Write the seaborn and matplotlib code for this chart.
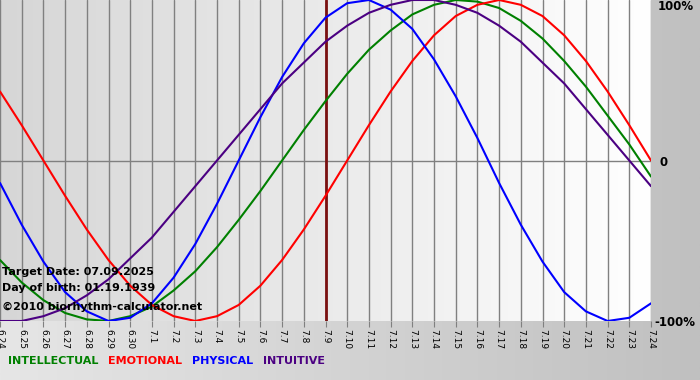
import numpy as np
import pandas as pd
import matplotlib.pyplot as plt
from matplotlib.colors import LinearSegmentedColormap
import seaborn as sns

# dates shown along the bottom (6.24 .. 7.24)
dates = ['6.24', '6.25', '6.26', '6.27', '6.28', '6.29', '6.30',
         '7.1', '7.2', '7.3', '7.4', '7.5', '7.6', '7.7', '7.8', '7.9',
         '7.10', '7.11', '7.12', '7.13', '7.14', '7.15', '7.16', '7.17',
         '7.18', '7.19', '7.20', '7.21', '7.22', '7.23', '7.24']
target_date = '7.9'

# daily cycle values (-1 .. 1)
intellectual = [-0.62, -0.76, -0.87, -0.95, -0.99, -1.00, -0.97, -0.91, -0.81, -0.69,
                -0.54, -0.37, -0.19, 0.00, 0.19, 0.37, 0.54, 0.69, 0.81, 0.91,
                0.97, 1.00, 0.99, 0.95, 0.87, 0.76, 0.62, 0.46, 0.28, 0.10, -0.10]
emotional = [0.43, 0.22, 0.00, -0.22, -0.43, -0.62, -0.78, -0.90, -0.97, -1.00,
             -0.97, -0.90, -0.78, -0.62, -0.43, -0.22, 0.00, 0.22, 0.43, 0.62,
             0.78, 0.90, 0.97, 1.00, 0.97, 0.90, 0.78, 0.62, 0.43, 0.22, 0.00]
physical = [-0.14, -0.40, -0.63, -0.82, -0.94, -1.00, -0.98, -0.89, -0.73, -0.52,
            -0.27, 0.00, 0.27, 0.52, 0.73, 0.89, 0.98, 1.00, 0.94, 0.82,
            0.63, 0.40, 0.14, -0.14, -0.40, -0.63, -0.82, -0.94, -1.00, -0.98, -0.89]
intuitive = [-1.00, -1.00, -0.97, -0.92, -0.84, -0.74, -0.61, -0.48, -0.32, -0.16,
             0.00, 0.16, 0.32, 0.48, 0.61, 0.74, 0.84, 0.92, 0.97, 1.00,
             1.00, 0.97, 0.92, 0.84, 0.74, 0.61, 0.48, 0.32, 0.16, 0.00, -0.16]

cycle_names = ['INTELLECTUAL', 'EMOTIONAL', 'PHYSICAL', 'INTUITIVE']
cycle_colors = ['#008000', '#ff0000', '#0000ff', '#4b0082']

target_text = 'Target Date: 07.09.2025'
birth_text = 'Day of birth: 01.19.1939'
credit_text = '\u00a92010 biorhythm-calculator.net'

# long table for seaborn
rows = []
for name, vals in zip(cycle_names, [intellectual, emotional, physical, intuitive]):
    for i, v in enumerate(vals):
        rows.append({'day': i, 'value': v, 'cycle': name})
df = pd.DataFrame(rows)

sns.set_style('white')
plt.rcParams['font.family'] = ['DejaVu Sans']
plt.rcParams['text.color'] = 'black'
plt.rcParams['xtick.color'] = 'black'

fig = plt.figure(figsize=(7, 3.8), dpi=100)

# figure background gradient
grad = np.linspace(0, 1, 256).reshape(1, -1)
bg = fig.add_axes([0, 0, 1, 1], zorder=-10)
bg.imshow(grad, aspect='auto', extent=[0, 1, 0, 1],
          cmap=LinearSegmentedColormap.from_list('bg', ['#e6e6e6', '#c0c0c0']))
bg.axis('off')

ax = fig.add_axes([0, 1 - 321 / 380, 651 / 700, 321 / 380])
n = len(dates)
ax.imshow(grad, aspect='auto', zorder=0, extent=[0, n - 1, -1, 1],
          cmap=LinearSegmentedColormap.from_list('pa', ['#d6d6d6', '#ffffff']))

for i in range(n):
    ax.axvline(i, color='#808080', lw=1, zorder=1)
ax.axhline(0, color='#808080', lw=1, zorder=1)
ax.axvline(dates.index(target_date), color='#7a1010', lw=2, zorder=2)

sns.lineplot(data=df, x='day', y='value', hue='cycle', hue_order=cycle_names,
             palette=cycle_colors, linewidth=1.5, legend=False, ax=ax, zorder=3)

ax.set_xlim(0, n - 1)
ax.set_ylim(-1, 1)
ax.set_xticks(range(n))
ax.set_xticklabels(dates, rotation=270, fontsize=6.5, color='black')
ax.tick_params(axis='x', length=4, color='#808080', pad=2, direction='out', bottom=True)
ax.set_yticks([])
ax.set_xlabel('')
ax.set_ylabel('')
for s in ax.spines.values():
    s.set_visible(False)

# right side labels
fig.text(658 / 700, 1 - 7 / 380, '100%', fontsize=8.5, fontweight='bold', va='center', ha='left')
fig.text(659 / 700, 1 - 162 / 380, '0', fontsize=8.5, fontweight='bold', va='center', ha='left')
fig.text(654 / 700, 1 - 322 / 380, '-100%', fontsize=8.5, fontweight='bold', va='center', ha='left')

# info text
fig.text(2 / 700, 1 - 272 / 380, target_text, fontsize=8, fontweight='bold', va='center')
fig.text(2 / 700, 1 - 288 / 380, birth_text, fontsize=8, fontweight='bold', va='center')
fig.text(2 / 700, 1 - 307 / 380, credit_text, fontsize=8, fontweight='bold', va='center')

# legend words
x = 8
for name, col in zip(cycle_names, cycle_colors):
    t = fig.text(x / 700, 1 - 361 / 380, name, color=col, fontsize=8, fontweight='bold', va='center')
    fig.canvas.draw()
    w = t.get_window_extent().width
    x += w + 10

fig.savefig('out.png', dpi=100)
